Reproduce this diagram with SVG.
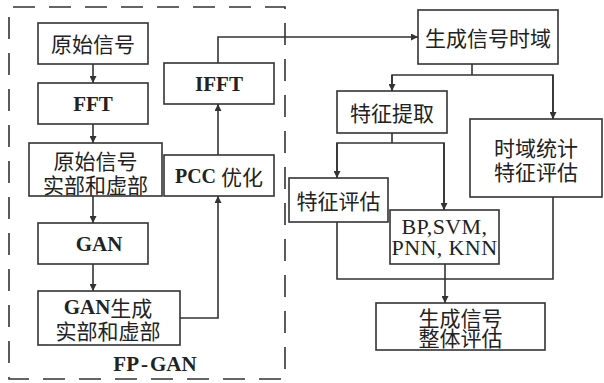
<svg xmlns="http://www.w3.org/2000/svg" width="604" height="383" viewBox="0 0 604 383">
<style>
.box{fill:#fff;stroke:#333;stroke-width:1.6}
.cn{font-family:"Noto Sans CJK SC",sans-serif;font-size:21px;fill:#222;text-anchor:middle;dominant-baseline:central}
.en{font-family:"Liberation Serif","Noto Sans CJK SC",serif;font-size:21px;font-weight:bold;fill:#222;text-anchor:middle;dominant-baseline:central}
.mix{font-family:"Liberation Serif","Noto Sans CJK SC",serif;font-size:21px;fill:#222;text-anchor:middle;dominant-baseline:central}
.lat{font-family:"Liberation Serif",serif;font-size:22px;fill:#222;text-anchor:middle;dominant-baseline:central;letter-spacing:0.4px}
.b{font-weight:bold}
.c{font-family:"Noto Sans CJK SC",sans-serif;font-weight:normal}
.ln{fill:none;stroke:#333;stroke-width:1.6}
.dash{fill:none;stroke:#333;stroke-width:1.6;stroke-dasharray:22 14;stroke-dashoffset:-4}
</style>
<defs>
<marker id="ah" viewBox="0 0 10 10" refX="10" refY="5" markerWidth="7" markerHeight="7" markerUnits="userSpaceOnUse" orient="auto">
<path d="M0,0 L10,5 L0,10 z" fill="#333"/>
</marker>
</defs>
<rect fill="#fff" width="604" height="383"/>
<g id="fpgan">
<rect class="dash" x="9" y="7" width="276" height="372"/>
<text class="en" x="155" y="364">FP<tspan dx="2">-</tspan><tspan dx="2">GAN</tspan></text>
</g>
<g id="n1"><rect class="box" x="38" y="23" width="110" height="41"/><text class="cn" x="93" y="43">原始信号</text></g>
<g id="n2"><rect class="box" x="38" y="83" width="110" height="41"/><text class="en" x="93" y="104">FFT</text></g>
<g id="n3"><rect class="box" x="29" y="143" width="133" height="53"/><text class="cn"><tspan x="95.5" y="160">原始信号</tspan><tspan x="95.5" y="184">实部和虚部</tspan></text></g>
<g id="n4"><rect class="box" x="38" y="223" width="110" height="41"/><text class="en" x="99" y="244">GAN</text></g>
<g id="n5"><rect class="box" x="38" y="291" width="142" height="54"/><text class="mix"><tspan x="108" y="307"><tspan class="b">GAN</tspan><tspan class="c">生成</tspan></tspan><tspan class="c" x="108" y="330">实部和虚部</tspan></text></g>
<g id="n6"><rect class="box" x="164" y="155" width="110" height="41"/><text class="mix" x="219" y="176"><tspan class="b" font-size="20">PCC </tspan><tspan class="c">优化</tspan></text></g>
<g id="n7"><rect class="box" x="164" y="63" width="110" height="41"/><text class="en" x="219" y="84">IFFT</text></g>
<g id="n8"><rect class="box" x="418" y="10" width="140" height="54"/><text class="cn" x="488" y="37">生成信号时域</text></g>
<g id="n9"><rect class="box" x="337" y="91" width="110" height="42"/><text class="cn" x="392" y="112">特征提取</text></g>
<g id="n10"><rect class="box" x="470" y="119" width="132" height="78"/><text class="cn"><tspan x="536" y="147">时域统计</tspan><tspan x="536" y="171">特征评估</tspan></text></g>
<g id="n11"><rect class="box" x="289" y="178" width="99" height="44"/><text class="cn" x="338.5" y="200">特征评估</text></g>
<g id="n12"><rect class="box" x="390" y="210" width="109" height="54"/><text class="lat"><tspan x="444.5" y="226">BP,SVM,</tspan><tspan x="444.5" y="247">PNN, KNN</tspan></text></g>
<g id="n13"><rect class="box" x="376" y="303" width="169" height="47"/><text class="cn"><tspan x="460.5" y="317">生成信号</tspan><tspan x="460.5" y="337">整体评估</tspan></text></g>
<g id="connectors">
<line class="ln" x1="93" y1="64" x2="93" y2="83" marker-end="url(#ah)"/>
<line class="ln" x1="93" y1="124" x2="93" y2="143" marker-end="url(#ah)"/>
<line class="ln" x1="93" y1="196" x2="93" y2="223" marker-end="url(#ah)"/>
<line class="ln" x1="93" y1="264" x2="93" y2="291" marker-end="url(#ah)"/>
<polyline class="ln" points="180,318 218,318 218,196" marker-end="url(#ah)"/>
<line class="ln" x1="218" y1="155" x2="218" y2="104" marker-end="url(#ah)"/>
<polyline class="ln" points="218,63 218,37 418,37" marker-end="url(#ah)"/>
<polyline class="ln" points="472,64 472,75"/>
<polyline class="ln" points="392,91 392,75 553,75 553,119"/>
<line class="ln" x1="392" y1="75" x2="392" y2="91" marker-end="url(#ah)"/>
<line class="ln" x1="553" y1="75" x2="553" y2="119" marker-end="url(#ah)"/>
<polyline class="ln" points="392,133 392,143"/>
<polyline class="ln" points="337,178 337,143 444,143 444,210"/>
<line class="ln" x1="337" y1="143" x2="337" y2="178" marker-end="url(#ah)"/>
<line class="ln" x1="444" y1="143" x2="444" y2="210" marker-end="url(#ah)"/>
<polyline class="ln" points="337,222 337,279 553,279 553,197"/>
<line class="ln" x1="445" y1="264" x2="445" y2="303" marker-end="url(#ah)"/>
</g>
</svg>
